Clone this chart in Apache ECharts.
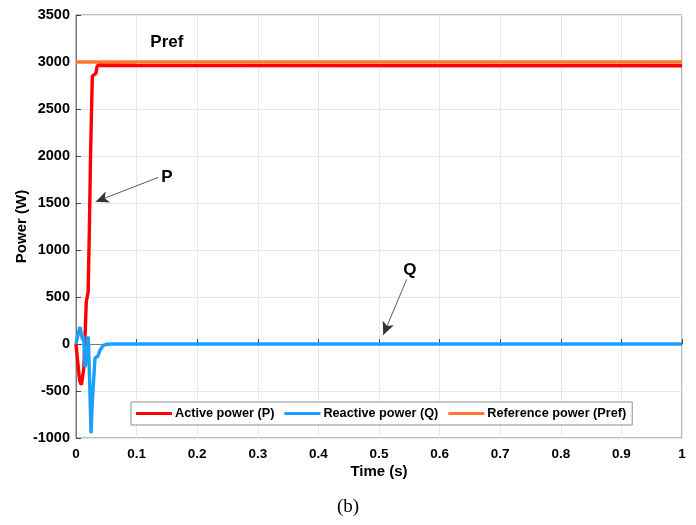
<!DOCTYPE html>
<html>
<head>
<meta charset="utf-8">
<script src="https://cdn.jsdelivr.net/npm/echarts@6/dist/echarts.min.js"></script>
<style>
html,body{margin:0;padding:0;background:#fff;}
#chart{width:696px;height:525px;}
</style>
</head>
<body>
<div id="chart"></div>
<script>
// Data
var xTicks = [0, 0.1, 0.2, 0.3, 0.4, 0.5, 0.6, 0.7, 0.8, 0.9, 1];
var yTicks = [-1000, -500, 0, 500, 1000, 1500, 2000, 2500, 3000, 3500];

var pTime  = [0, 0.003, 0.006, 0.009, 0.011, 0.013, 0.015, 0.017, 0.019, 0.020, 0.022, 0.024, 0.026, 0.027, 0.030, 0.033, 0.035, 0.040, 0.1, 1];
var pValue = [0, -200, -390, -435, -420, -250, 100, 450, 520, 550, 1200, 2000, 2600, 2850, 2860, 2880, 2960, 2965, 2962, 2960];

var qTime  = [0, 0.004, 0.0066, 0.009, 0.011, 0.0125, 0.015, 0.018, 0.0203, 0.0225, 0.0248, 0.027, 0.0314, 0.036, 0.040, 0.045, 0.050, 0.06, 1];
var qValue = [0, 120, 180, 100, 40, 90, -245, -100, 80, -400, -950, -600, -150, -130, -60, -15, -3, 0, 0];

var refTime  = [0, 1];
var refValue = [3000, 3000];

// annotation anchors (data coordinates)
var prefLabel = [0.150, 3213];
var pLabel = [0.150, 1776];
var pArrow = [[0.136, 1773], [0.0325, 1514]];
var qLabel = [0.551, 787];
var qArrow = [[0.5457, 688], [0.507, 96]];

function zip(a, b) { return a.map(function (v, i) { return [v, b[i]]; }); }

var chart = echarts.init(document.getElementById('chart'), null, {renderer: 'canvas'});
var FONT = 'Liberation Sans, Arial, sans-serif';

var labelPoint = function (c, txt, size) {
  return { coord: c, symbol: 'circle', symbolSize: 0.01,
    label: { show: true, position: 'inside', formatter: txt, color: '#000', fontWeight: 'bold', fontSize: size, fontFamily: FONT } };
};

var option = {
  animation: false,
  grid: { left: 76, right: 14, top: 15, bottom: 87, show: true, borderColor: '#7a7a7a', borderWidth: 1,
          containLabel: false, outerBoundsMode: 'none' },
  legend: {
    left: 131, top: 402, orient: 'horizontal',
    backgroundColor: '#fff', borderColor: '#8c8c8c', borderWidth: 1, borderRadius: 0,
    padding: [5, 6, 5, 5], itemGap: 10, itemWidth: 36, itemHeight: 3,
    icon: 'rect',
    textStyle: { fontFamily: FONT, fontWeight: 'bold', fontSize: 12.7, color: '#000', padding: [0, 0, 0, -2] },
    data: ['Active power (P)', 'Reactive power (Q)', 'Reference power (Pref)']
  },
  xAxis: {
    type: 'value', min: 0, max: 1, interval: 0.1,
    name: 'Time (s)', nameLocation: 'middle', nameGap: 26, nameMoveOverlap: false,
    nameTextStyle: { fontFamily: FONT, fontWeight: 'bold', fontSize: 15, color: '#000' },
    axisLine: { show: true, lineStyle: { color: '#7a7a7a' } },
    axisTick: { show: true, inside: true, length: 5, lineStyle: { color: '#444' } },
    axisLabel: { margin: 9, fontFamily: FONT, fontWeight: 'bold', fontSize: 13.5, color: '#000',
      formatter: function (v) { return String(+v.toFixed(1)); } },
    splitLine: { show: true, lineStyle: { color: '#e8e8e8', width: 1 } }
  },
  yAxis: {
    type: 'value', min: -1000, max: 3500, interval: 500,
    name: 'Power (W)', nameLocation: 'middle', nameGap: 47, nameMoveOverlap: false,
    nameTextStyle: { fontFamily: FONT, fontWeight: 'bold', fontSize: 15, color: '#000' },
    axisLine: { show: true, lineStyle: { color: '#7a7a7a' } },
    axisTick: { show: true, inside: true, length: 5, lineStyle: { color: '#444' } },
    axisLabel: { margin: 6, fontFamily: FONT, fontWeight: 'bold', fontSize: 14.5, color: '#000',
      formatter: function (v) { return String(v); } },
    splitLine: { show: true, lineStyle: { color: '#e8e8e8', width: 1 } }
  },
  series: [
    {
      name: 'Active power (P)', type: 'line', data: zip(pTime, pValue),
      showSymbol: false, symbol: 'none', color: '#ff0000', z: 3,
      lineStyle: { color: '#ff0000', width: 3.4 },
      markLine: {
        silent: true, symbol: ['none', 'arrow'], symbolSize: [9, 13],
        lineStyle: { color: '#333', width: 0.8, type: 'solid' },
        label: { show: false },
        data: [[{ coord: pArrow[0] }, { coord: pArrow[1] }]]
      },
      markPoint: { silent: true, data: [labelPoint(pLabel, 'P', 17), labelPoint(prefLabel, 'Pref', 17)] }
    },
    {
      name: 'Reactive power (Q)', type: 'line', data: zip(qTime, qValue),
      showSymbol: false, symbol: 'none', color: '#1a9fff', z: 4,
      lineStyle: { color: '#1a9fff', width: 3.4 },
      markLine: {
        silent: true, symbol: ['none', 'arrow'], symbolSize: [9, 13],
        lineStyle: { color: '#333', width: 0.8, type: 'solid' },
        label: { show: false },
        data: [[{ coord: qArrow[0] }, { coord: qArrow[1] }]]
      },
      markPoint: { silent: true, data: [labelPoint(qLabel, 'Q', 17)] }
    },
    {
      name: 'Reference power (Pref)', type: 'line', data: zip(refTime, refValue),
      showSymbol: false, symbol: 'none', color: '#ff7733', z: 2,
      lineStyle: { color: '#ff7733', width: 3.4 }
    }
  ],
  graphic: [
    { type: 'text', left: 337, top: 498,
      style: { text: '(b)', font: '19px "Liberation Serif", "Times New Roman", serif', fill: '#000' } }
  ]
};
chart.setOption(option);
</script>
</body>
</html>
